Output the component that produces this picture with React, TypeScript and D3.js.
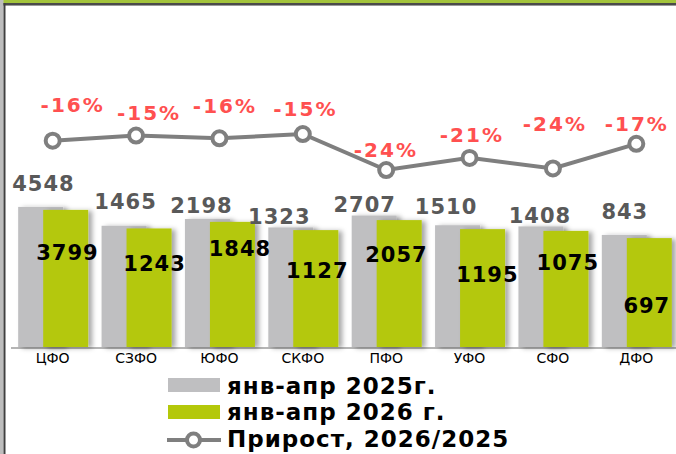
import React from 'react'
import * as d3 from 'd3'

const districts = ['ЦФО', 'СЗФО', 'ЮФО', 'СКФО', 'ПФО', 'УФО', 'СФО', 'ДФО']
const values2025 = [4548, 1465, 2198, 1323, 2707, 1510, 1408, 843]
const values2026 = [3799, 1243, 1848, 1127, 2057, 1195, 1075, 697]
// прирост, % (точки линии)
const growth = [-16.5, -15.2, -15.9, -14.8, -24.0, -20.9, -23.6, -17.3]
const growthLabels = ['-16%', '-15%', '-16%', '-15%', '-24%', '-21%', '-24%', '-17%']
const legendNames = ['янв-апр 2025г.', 'янв-апр 2026 г.', 'Прирост, 2026/2025']

// ручные сдвиги подписей (как в исходнике)
const grayNudge = [[-9.7, -16], [-11, -17], [-18.5, -6], [-24, -3.5], [-22, -4], [-24, -11.5], [-13.5, -3.5], [-12, -16]]
const greenNudge = [[14.3, 50], [18, 43], [20, 34], [14, 48], [9.7, 41.6], [17.3, 52.6], [14.4, 39], [10, 75]]
const pctNudge = [[19, -28.7], [12, -15.6], [4.5, -25.3], [1.6, -18], [-1.3, -13], [1.3, -16], [0.9, -37.4], [-0.5, -12.8]]

const W = 676
const H = 454
const base = 347
const font = '"DejaVu Sans", Verdana, sans-serif'
const GREEN = '#b4c80a'
const GRAY = '#bfbfc1'
const LINE = '#7f7f7f'

export default function App() {
  const x = d3.scaleBand<string>().domain(districts).range([11, 678]).padding(0)
  const y = d3.scaleLog().domain([1, 10000]).range([base, 193.8])
  const yg = d3.scaleLinear().domain([-30, 0]).range([193.5, 76.1])
  const cx = (d: string) => (x(d) as number) + x.bandwidth() / 2
  const barW = 45

  const line = d3.line<number>()
    .x((_, i) => cx(districts[i]))
    .y(d => yg(d))

  return (
    <div style={{ position: 'fixed', left: 0, top: 0 }}>
      <svg width={W} height={H} style={{ display: 'block', background: '#fff' }}>
        <defs>
          <filter id="sh" x="-20%" y="-10%" width="160%" height="130%">
            <feDropShadow dx="4" dy="1" stdDeviation="2.5" floodColor="#000" floodOpacity="0.35" />
          </filter>
        </defs>

        {/* рамка */}
        <rect x={0} y={0} width={W} height={3} fill="#a3c43b" />
        <rect x={0} y={3} width={W} height={2} fill="#4a4a4a" />
        <rect x={0} y={5} width={W} height={1} fill="#9a9a9a" />
        <rect x={0} y={0} width={3.5} height={H} fill="#bdbdbd" />
        <rect x={3.5} y={3} width={2} height={H} fill="#404040" />

        {/* ось */}
        <line x1={11} x2={W} y1={base + 1} y2={base + 1} stroke="#b5b5b5" strokeWidth={2} />

        {districts.map((d, i) => (
          <g key={d}>
            <rect x={cx(d) - 34.5} y={y(values2025[i])} width={barW} height={base - y(values2025[i])}
              fill={GRAY} filter="url(#sh)" />
            <rect x={cx(d) - 9.5} y={y(values2026[i])} width={barW} height={base - y(values2026[i])}
              fill={GREEN} filter="url(#sh)" />
          </g>
        ))}

        {districts.map((d) => (
          <text key={d} x={cx(d)} y={363} textAnchor="middle" fontFamily={font} fontSize={14} fill="#000">{d}</text>
        ))}

        {districts.map((d, i) => (
          <g key={d} fontFamily={font} fontWeight="bold" fontSize={21} textAnchor="middle" letterSpacing={1}>
            <text x={cx(d) + grayNudge[i][0] + 0.5} y={y(values2025[i]) + grayNudge[i][1]} fill="#595959">{values2025[i]}</text>
            <text x={cx(d) + greenNudge[i][0] + 0.5} y={y(values2026[i]) + greenNudge[i][1]} fill="#000">{values2026[i]}</text>
          </g>
        ))}

        <path d={line(growth) || ''} fill="none" stroke={LINE} strokeWidth={4} />
        {growth.map((g, i) => (
          <circle key={i} cx={cx(districts[i])} cy={yg(g)} r={7} fill="#fff" stroke={LINE} strokeWidth={4} />
        ))}
        {growth.map((g, i) => (
          <text key={i} x={cx(districts[i]) + pctNudge[i][0] + 1} y={yg(g) + pctNudge[i][1]} textAnchor="middle"
            fontFamily={font} fontWeight="bold" fontSize={20} letterSpacing={2} fill="#ff5050">{growthLabels[i]}</text>
        ))}

        {/* легенда */}
        <g fontFamily={font} fontWeight="bold" fontSize={23} letterSpacing={1} fill="#000">
          <rect x={168} y={378} width={52} height={14} fill={GRAY} />
          <text x={227} y={394}>{legendNames[0]}</text>
          <rect x={168} y={405} width={52} height={14} fill={GREEN} />
          <text x={227} y={420}>{legendNames[1]}</text>
          <line x1={167} x2={221} y1={440} y2={440} stroke={LINE} strokeWidth={4} />
          <circle cx={193.5} cy={440} r={6.5} fill="#fff" stroke={LINE} strokeWidth={4} />
          <text x={227} y={447}>{legendNames[2]}</text>
        </g>
      </svg>
    </div>
  )
}
